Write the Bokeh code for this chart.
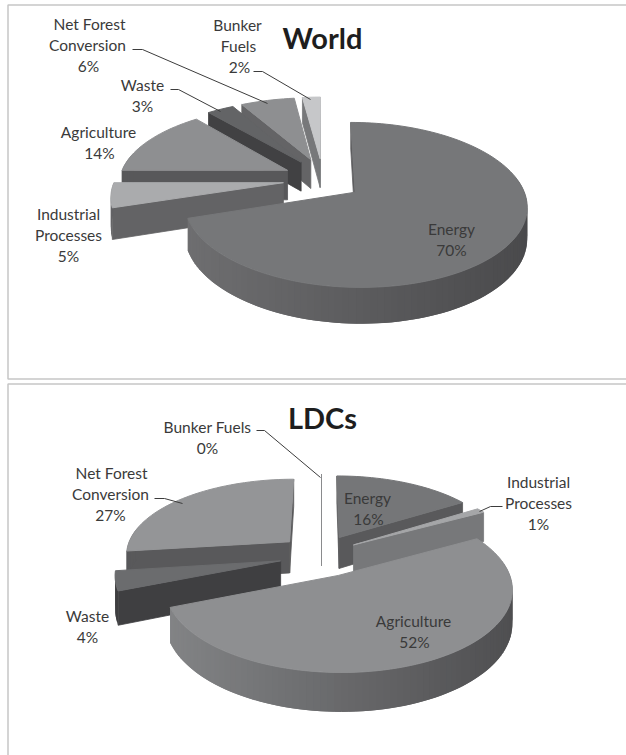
import math
from bokeh.plotting import figure
from bokeh.embed import file_html
from bokeh.resources import INLINE
from bokeh.core.properties import value

# data
sectors_world = ["Energy", "Industrial Processes", "Agriculture", "Waste", "Net Forest Conversion", "Bunker Fuels"]
shares_world = [70, 5, 14, 3, 6, 2]
sectors_ldc = ["Energy", "Industrial Processes", "Agriculture", "Waste", "Net Forest Conversion", "Bunker Fuels"]
shares_ldc = [16, 1, 52, 4, 27, 0]

# styles
top_world = ["#767779", "#aaabad", "#8e8f91", "#636466", "#8e8f91", "#c6c7c9"]
side_world = ["#5d5d5f", "#636365", "#58585a", "#414143", "#646466", "#77787a"]
curve_world = [("#6e6e70", "#4a4a4c"), ("#636365", "#636365"), ("#58585a", "#58585a"),
               ("#414143", "#414143"), ("#646466", "#646466"), ("#77787a", "#77787a")]
top_ldc = ["#757678", "#a5a6a8", "#8e8f91", "#6b6c6e", "#949597", "#8a8b8d"]
side_ldc = ["#59595b", "#77787a", "#707072", "#3f3f41", "#59595b", "#8a8b8d"]
curve_ldc = [("#59595b", "#59595b"), ("#77787a", "#77787a"), ("#828385", "#4f4f51"),
             ("#3f3f41", "#3f3f41"), ("#59595b", "#59595b"), ("#8a8b8d", "#8a8b8d")]
# per-slice horizontal tuning of the exploded layout
rim_x_world = [0.965, 0.985, 0.985, 1, 1, 1]
pull_x_world = [1, 1, 1, 1, 1, 1]
rim_x_ldc = [1, 1, 1, 0.975, 1, 1]
pull_x_ldc = [1, 1, 1, 1.1, 1.15, 1]

K, EX, EY = 0.15, 0.23, 0.28
VIEW_WORLD = dict(cx=322, cy=178.8, rx=171, ry=76.6, h=30)
VIEW_LDC = dict(cx=321, cy=555, rx=165, ry=75.8, h=32)

p = figure(width=626, height=755, x_range=(0, 626), y_range=(755, 0),
           output_backend="svg", toolbar_location=None, min_border=0,
           outline_line_color=None, background_fill_color="white",
           x_axis_type=None, y_axis_type=None)
p.grid.visible = False


def mix(a, b, t):
    ca = [int(a[i:i + 2], 16) for i in (1, 3, 5)]
    cb = [int(b[i:i + 2], 16) for i in (1, 3, 5)]
    return "#%02x%02x%02x" % tuple(round(u + (w - u) * t) for u, w in zip(ca, cb))


def pie3d(shares, tops, sides, curves, rim_x, pull_x, view):
    def proj(X, Y, z=0.0):
        d = 1 + K * Y
        return (view["cx"] + view["rx"] * X / d,
                view["cy"] + (-view["ry"] * Y + view["h"] * z) / d)

    wedges, acc = [], 0.0
    for i, s in enumerate(shares):
        a0, a1 = acc / 100 * 2 * math.pi, (acc + s) / 100 * 2 * math.pi
        acc += s
        b = (a0 + a1) / 2
        wedges.append((EY * math.cos(b), i, a0, a1, EX * pull_x[i] * math.sin(b), EY * math.cos(b)))

    for _, i, a0, a1, ox, oy in sorted(wedges, key=lambda w: -w[0]):
        n = max(2, int((a1 - a0) / (2 * math.pi) * 180))
        th = [a0 + (a1 - a0) * j / n for j in range(n + 1)]
        rim = [(ox + rim_x[i] * math.sin(t), oy + math.cos(t)) for t in th]
        # radial faces that look at the viewer
        xs, ys = [], []
        for t, sgn, pt in ((a0, -1, rim[0]), (a1, 1, rim[-1])):
            if math.cos(t + sgn * math.pi / 2) < 1e-6:
                q = [proj(ox, oy), proj(*pt), proj(pt[0], pt[1], 1), proj(ox, oy, 1)]
                xs.append([c[0] for c in q]); ys.append([c[1] for c in q])
        if xs:
            p.patches(xs, ys, fill_color=sides[i], line_color=sides[i], line_width=0.8)
        # curved outer band, shaded in overlapping strips
        xs, ys, cs = [], [], []
        px = [proj(*r)[0] for r in rim]
        lo, hi = min(px), max(px)
        for j in range(n):
            if math.cos((th[j] + th[j + 1]) / 2) < 0.2:
                r0, r1 = rim[j], rim[min(j + 2, n)]
                q = [proj(*r0), proj(*r1), proj(r1[0], r1[1], 1), proj(r0[0], r0[1], 1)]
                f = ((px[j] + px[j + 1]) / 2 - lo) / (hi - lo + 1e-9)
                xs.append([c[0] for c in q]); ys.append([c[1] for c in q])
                cs.append(mix(curves[i][0], curves[i][1], f))
        if xs:
            p.patches(xs, ys, fill_color=cs, line_color=None)
        # top face
        q = [proj(ox, oy)] + [proj(*r) for r in rim]
        p.patch([c[0] for c in q], [c[1] for c in q], fill_color=tops[i],
                line_color=tops[i], line_width=1)


p.multi_line([[626, 7.5, 7.5, 626], [626, 7.5, 7.5]],
             [[4.5, 4.5, 378.5, 378.5], [383.5, 383.5, 755]],
             line_color="#c6c6c6", line_width=1.5)

pie3d(shares_world, top_world, side_world, curve_world, rim_x_world, pull_x_world, VIEW_WORLD)
pie3d(shares_ldc, top_ldc, side_ldc, curve_ldc, rim_x_ldc, pull_x_ldc, VIEW_LDC)

p.multi_line([[132, 142, 267], [253, 262, 310], [170, 178, 220],
              [256, 264, 320], [154, 164, 182], [502, 490, 479]],
             [[49, 49, 103], [71, 71, 99], [89, 89, 111],
              [430, 430, 477], [498, 498, 503], [506, 506, 511]],
             line_color="#3c3c3c", line_width=1)

LABEL_LINES = ["Net Forest", "Conversion", "6%", "Bunker", "Fuels", "2%", "Waste", "3%",
               "Agriculture", "14%", "Industrial", "Processes", "5%", "Energy", "70%",
               "Bunker Fuels", "0%", "Net Forest", "Conversion", "27%", "Energy", "16%",
               "Industrial", "Processes", "1%", "Agriculture", "52%", "Waste", "4%"]
LABEL_X = [89, 87, 88, 237, 238, 239, 142, 142, 98, 99, 68, 68, 68, 451, 451,
           207, 207, 111, 110, 110, 367, 368, 538, 538, 538, 413, 414, 87, 87]
LABEL_Y = [23, 44, 65, 24, 45, 66, 84, 105, 131, 152, 213, 234, 255, 228, 249,
           426, 447, 472, 493, 514, 497, 518, 481, 502, 523, 620, 641, 615, 636]
p.text(LABEL_X, LABEL_Y, text=LABEL_LINES, text_font=value("Lato"), text_font_size="15.5px",
       text_color="#3a3a3a", text_align="center", text_baseline="middle")
p.text([322, 322], [37, 417], text=["World", "LDCs"], text_font=value("Lato"),
       text_font_size="29px", text_font_style="bold", text_color="#1e1e1e",
       text_align="center", text_baseline="middle")

open("out.html", "w").write(file_html(p, INLINE))
